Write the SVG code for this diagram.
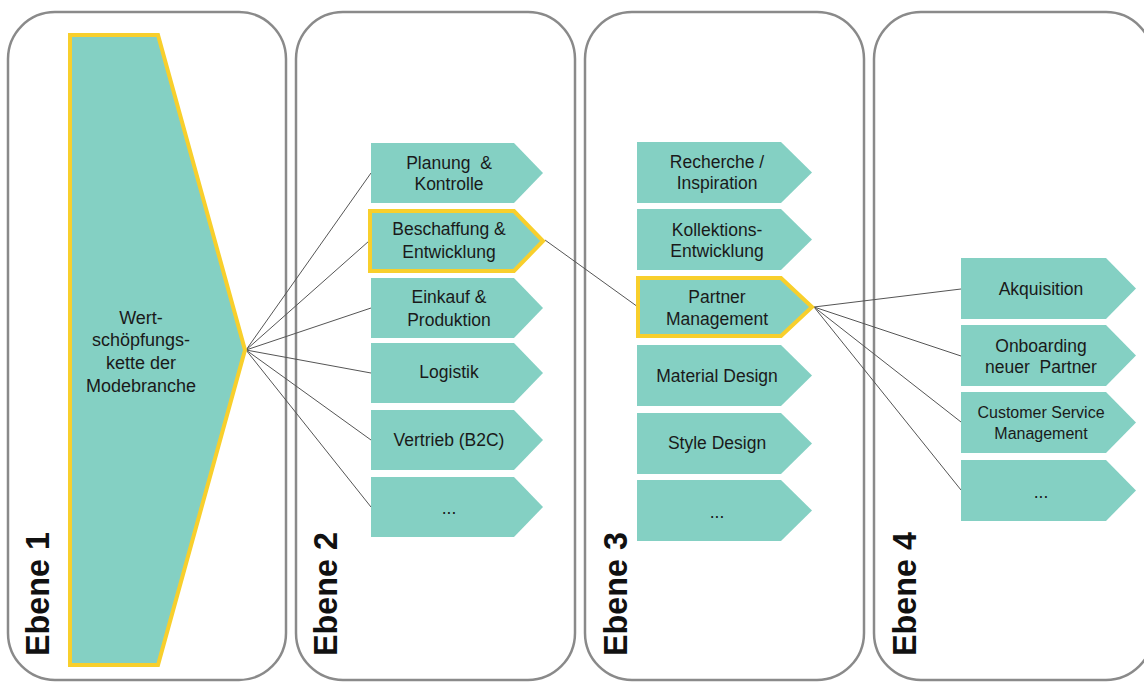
<svg xmlns="http://www.w3.org/2000/svg" width="1144" height="682" viewBox="0 0 1144 682">
<style>
.panel{fill:#fff;stroke:#8a8a8a;stroke-width:2.5}
.box{fill:#84d0c3;stroke:none}
.hl{fill:#84d0c3;stroke:#f8cf2c;stroke-width:4;stroke-linejoin:miter}
.t{font-family:"Liberation Sans",Arial,sans-serif;font-size:17.5px;fill:#1a1a1a;text-anchor:middle;white-space:pre}
.s{font-size:16px}
.lvl{font-family:"Liberation Sans",Arial,sans-serif;font-size:33px;font-weight:bold;fill:#111}
.c{stroke:#555;stroke-width:1;fill:none}
</style>
<rect width="1144" height="682" fill="#fff"/>
<g id="panels">
<rect class="panel" x="8" y="12" width="278" height="668" rx="47"/>
<rect class="panel" x="296" y="12" width="279" height="668" rx="47"/>
<rect class="panel" x="585" y="12" width="279" height="668" rx="47"/>
<rect class="panel" x="874" y="12" width="279" height="668" rx="47"/>
</g>
<g id="labels">
<text class="lvl" transform="translate(49,656) rotate(-90)" textLength="124" lengthAdjust="spacingAndGlyphs">Ebene 1</text>
<text class="lvl" transform="translate(337,656) rotate(-90)" textLength="124" lengthAdjust="spacingAndGlyphs">Ebene 2</text>
<text class="lvl" transform="translate(627,656) rotate(-90)" textLength="124" lengthAdjust="spacingAndGlyphs">Ebene 3</text>
<text class="lvl" transform="translate(916,656) rotate(-90)" textLength="124" lengthAdjust="spacingAndGlyphs">Ebene 4</text>
</g>
<g id="connectors">
<line class="c" x1="246" y1="350" x2="371" y2="173"/>
<line class="c" x1="246" y1="350" x2="369" y2="241"/>
<line class="c" x1="246" y1="350" x2="371" y2="308"/>
<line class="c" x1="246" y1="350" x2="371" y2="373"/>
<line class="c" x1="246" y1="350" x2="371" y2="440"/>
<line class="c" x1="246" y1="350" x2="371" y2="507"/>
<line class="c" x1="545" y1="240" x2="638" y2="307"/>
<line class="c" x1="814" y1="307" x2="961" y2="289"/>
<line class="c" x1="814" y1="307" x2="961" y2="356"/>
<line class="c" x1="814" y1="307" x2="961" y2="422"/>
<line class="c" x1="814" y1="307" x2="961" y2="490"/>
</g>
<g id="n-ebene1">
<polygon class="hl" points="70,35 158,35 245,350 158,665 70,665"/>
<text class="t" style="font-size:18px" x="141" y="324">Wert-</text>
<text class="t" style="font-size:18px" x="141" y="346">schöpfungs-</text>
<text class="t" style="font-size:18px" x="141" y="369">kette der</text>
<text class="t" style="font-size:18px" x="141" y="392">Modebranche</text>
</g>
<g id="n-planung">
<polygon class="box" points="371,143 514,143 543,173 514,203 371,203"/>
<text class="t" x="449" y="169">Planung  &amp;</text>
<text class="t" x="449" y="190">Kontrolle</text>
</g>
<g id="n-beschaffung">
<polygon class="hl" points="370,211 514,211 543,241 514,271 370,271"/>
<text class="t" x="449" y="235">Beschaffung &amp;</text>
<text class="t" x="449" y="258">Entwicklung</text>
</g>
<g id="n-einkauf">
<polygon class="box" points="371,278 514,278 543,308 514,338 371,338"/>
<text class="t" x="449" y="303">Einkauf &amp;</text>
<text class="t" x="449" y="326">Produktion</text>
</g>
<g id="n-logistik">
<polygon class="box" points="371,343 514,343 543,373 514,403 371,403"/>
<text class="t" x="449" y="378">Logistik</text>
</g>
<g id="n-vertrieb">
<polygon class="box" points="371,410 514,410 543,440 514,470 371,470"/>
<text class="t" x="449" y="446">Vertrieb (B2C)</text>
</g>
<g id="n-more2">
<polygon class="box" points="371,477 514,477 543,507 514,537 371,537"/>
<text class="t" x="449" y="514">...</text>
</g>
<g id="n-recherche">
<polygon class="box" points="637,142 781,142 812,172.5 781,203 637,203"/>
<text class="t" x="717" y="168">Recherche /</text>
<text class="t" x="717" y="189">Inspiration</text>
</g>
<g id="n-kollektion">
<polygon class="box" points="637,209 781,209 812,239.5 781,270 637,270"/>
<text class="t" x="717" y="236">Kollektions-</text>
<text class="t" x="717" y="257">Entwicklung</text>
</g>
<g id="n-partner">
<polygon class="hl" points="638,278 781,278 812,307 781,336 638,336"/>
<text class="t" x="717" y="303">Partner</text>
<text class="t" x="717" y="325">Management</text>
</g>
<g id="n-material">
<polygon class="box" points="637,345 781,345 812,375.5 781,406 637,406"/>
<text class="t" x="717" y="382">Material Design</text>
</g>
<g id="n-style">
<polygon class="box" points="637,413 781,413 812,443.5 781,474 637,474"/>
<text class="t" x="717" y="449">Style Design</text>
</g>
<g id="n-more3">
<polygon class="box" points="637,480 781,480 812,510.5 781,541 637,541"/>
<text class="t" x="717" y="518">...</text>
</g>
<g id="n-akquisition">
<polygon class="box" points="961,258 1106,258 1136,288.5 1106,319 961,319"/>
<text class="t" x="1041" y="295">Akquisition</text>
</g>
<g id="n-onboarding">
<polygon class="box" points="961,325 1106,325 1136,355.5 1106,386 961,386"/>
<text class="t" x="1041" y="352">Onboarding</text>
<text class="t" x="1041" y="373">neuer  Partner</text>
</g>
<g id="n-customer">
<polygon class="box" points="961,392 1106,392 1136,422.5 1106,453 961,453"/>
<text class="t s" x="1041" y="418">Customer Service</text>
<text class="t s" x="1041" y="439">Management</text>
</g>
<g id="n-more4">
<polygon class="box" points="961,460 1106,460 1136,490.5 1106,521 961,521"/>
<text class="t" x="1041" y="498">...</text>
</g>
</svg>
